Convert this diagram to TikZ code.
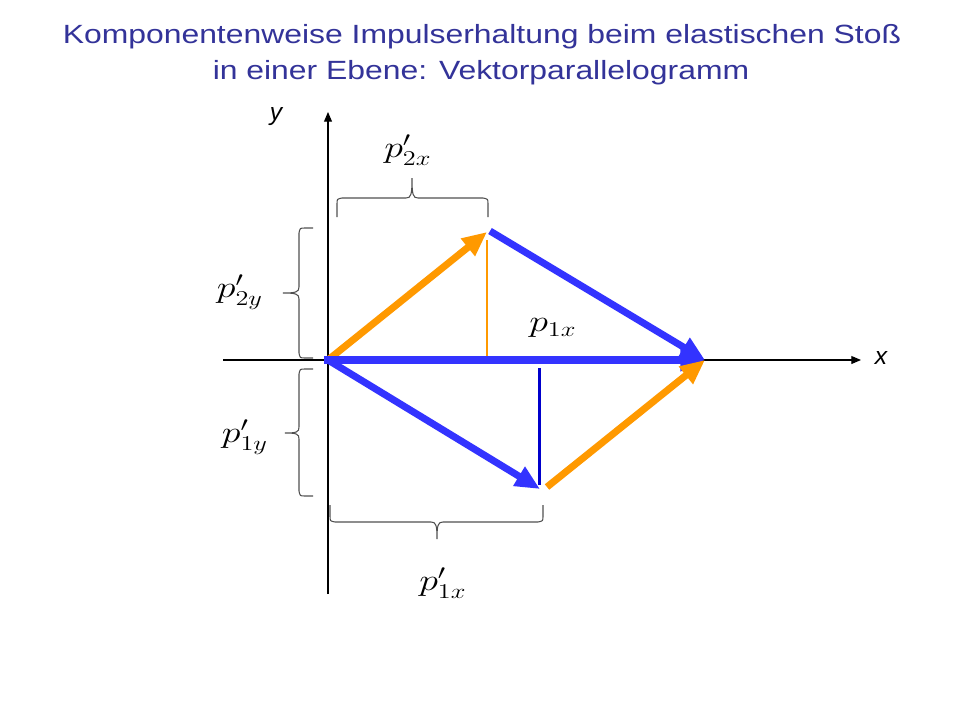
\documentclass[tikz,border=0pt]{standalone}
\usepackage{fontspec}
\newfontfamily\titlefont{Liberation Sans}
\usetikzlibrary{arrows.meta}
\definecolor{titleblue}{RGB}{51,51,153}
\definecolor{vecblue}{RGB}{51,51,255}
\definecolor{compblue}{RGB}{0,0,204}
\definecolor{vecorange}{RGB}{255,153,0}
\definecolor{bracegray}{RGB}{80,80,80}
\tikzset{
  axis/.style={line width=0.6pt, -{Triangle[length=5.5pt,width=4.5pt]}},
  vec/.style={line width=4pt, -{Triangle[length=14pt,width=12pt]}},
  comp/.style={line width=1.7pt},
  brace/.style={bracegray, line width=0.6pt},
  titletext/.style={titleblue, font=\titlefont\fontsize{15}{17}\selectfont, inner sep=0pt},
  axlab/.style={font=\titlefont\itshape\fontsize{14}{16}\selectfont, inner sep=0pt},
  lab/.style={font=\fontsize{17}{20}\selectfont, inner sep=0pt},
}
\begin{document}
\begin{tikzpicture}[x=0.02cm, y=-0.02cm]
  \useasboundingbox[fill=white] (0,0) rectangle (960,720);
  % title
  \node[titletext] (title1) at (482,37) {\scalebox{1.21}[1]{Komponentenweise Impulserhaltung beim elastischen Stoß}};
  \node[titletext] (title2) at (481,73) {\scalebox{1.21}[1]{in einer Ebene: Vektorparallelogramm}};
  % axes
  \coordinate (xs) at (223,360);
  \coordinate (xe) at (861,360);
  \coordinate (ys) at (328,594);
  \coordinate (ye) at (328,112);
  \draw[axis] (xs) -- (xe);
  \draw[axis] (ys) -- (ye);
  \node[axlab] (xlab) at (881,358) {x};
  \node[axlab] (ylab) at (276,117) {y};
  % corner points of the parallelogram
  \coordinate (O) at (328,360);
  \coordinate (O2) at (324,360);
  \coordinate (A) at (487,232);
  \coordinate (A2) at (490,231);
  \coordinate (B) at (705,360);
  \coordinate (C) at (540,489);
  \coordinate (C2) at (547,487);
  % components
  \draw[comp, vecorange] ([yshift=-4.5pt]A) -- ([yshift=2pt]A |- O);
  \draw[comp, compblue] ([xshift=-0.5pt, yshift=-4.5pt]C |- O) -- ([xshift=-0.5pt, yshift=2.3pt]C);
  % vectors
  \draw[vec, vecorange] (O) -- (A);
  \draw[vec, vecblue] (O2) -- (B);
  \draw[vec, vecblue] (A2) -- (B);
  \draw[vec, vecblue] (O) -- (C);
  \draw[vec, vecorange] (C2) -- (B);
  % braces
  \draw[brace] (337,217) -- (337,204) .. controls (337,199) .. (342,198) -- (406,198)
    .. controls (411,198) and (412,195) .. (412,178)
    .. controls (412,195) and (413,198) .. (418,198) -- (483,198)
    .. controls (488,199) .. (488,204) -- (488,217);
  \draw[brace] (313,228) -- (305,228) .. controls (300,228) .. (299,233) -- (299,287)
    .. controls (299,292) and (296,293) .. (283,293)
    .. controls (296,293) and (299,294) .. (299,299) -- (299,353)
    .. controls (300,358) .. (305,358) -- (313,358);
  \draw[brace] (313,369) -- (305,369) .. controls (300,369) .. (299,374) -- (299,427)
    .. controls (299,432) and (297,433) .. (285,433)
    .. controls (297,433) and (299,434) .. (299,439) -- (299,491)
    .. controls (300,496) .. (305,496) -- (313,496);
  \draw[brace] (330,505) -- (330,516) .. controls (330,521) .. (335,522) -- (431,522)
    .. controls (436,522) and (437,525) .. (437,539)
    .. controls (437,525) and (438,522) .. (443,522) -- (538,522)
    .. controls (543,521) .. (543,516) -- (543,505);
  % labels
  \node[lab] (p2x) at (408,150) {\scalebox{1.25}[1]{$p'_{2x}$}};
  \node[lab] (p2y) at (240,292) {\scalebox{1.25}[1]{$p'_{2y}$}};
  \node[lab] (p1y) at (245,437) {\scalebox{1.25}[1]{$p'_{1y}$}};
  \node[lab] (p1xs) at (443,583) {\scalebox{1.25}[1]{$p'_{1x}$}};
  \node[lab] (p1x) at (553,328) {\scalebox{1.25}[1]{$p_{1x}$}};
\end{tikzpicture}
\end{document}
